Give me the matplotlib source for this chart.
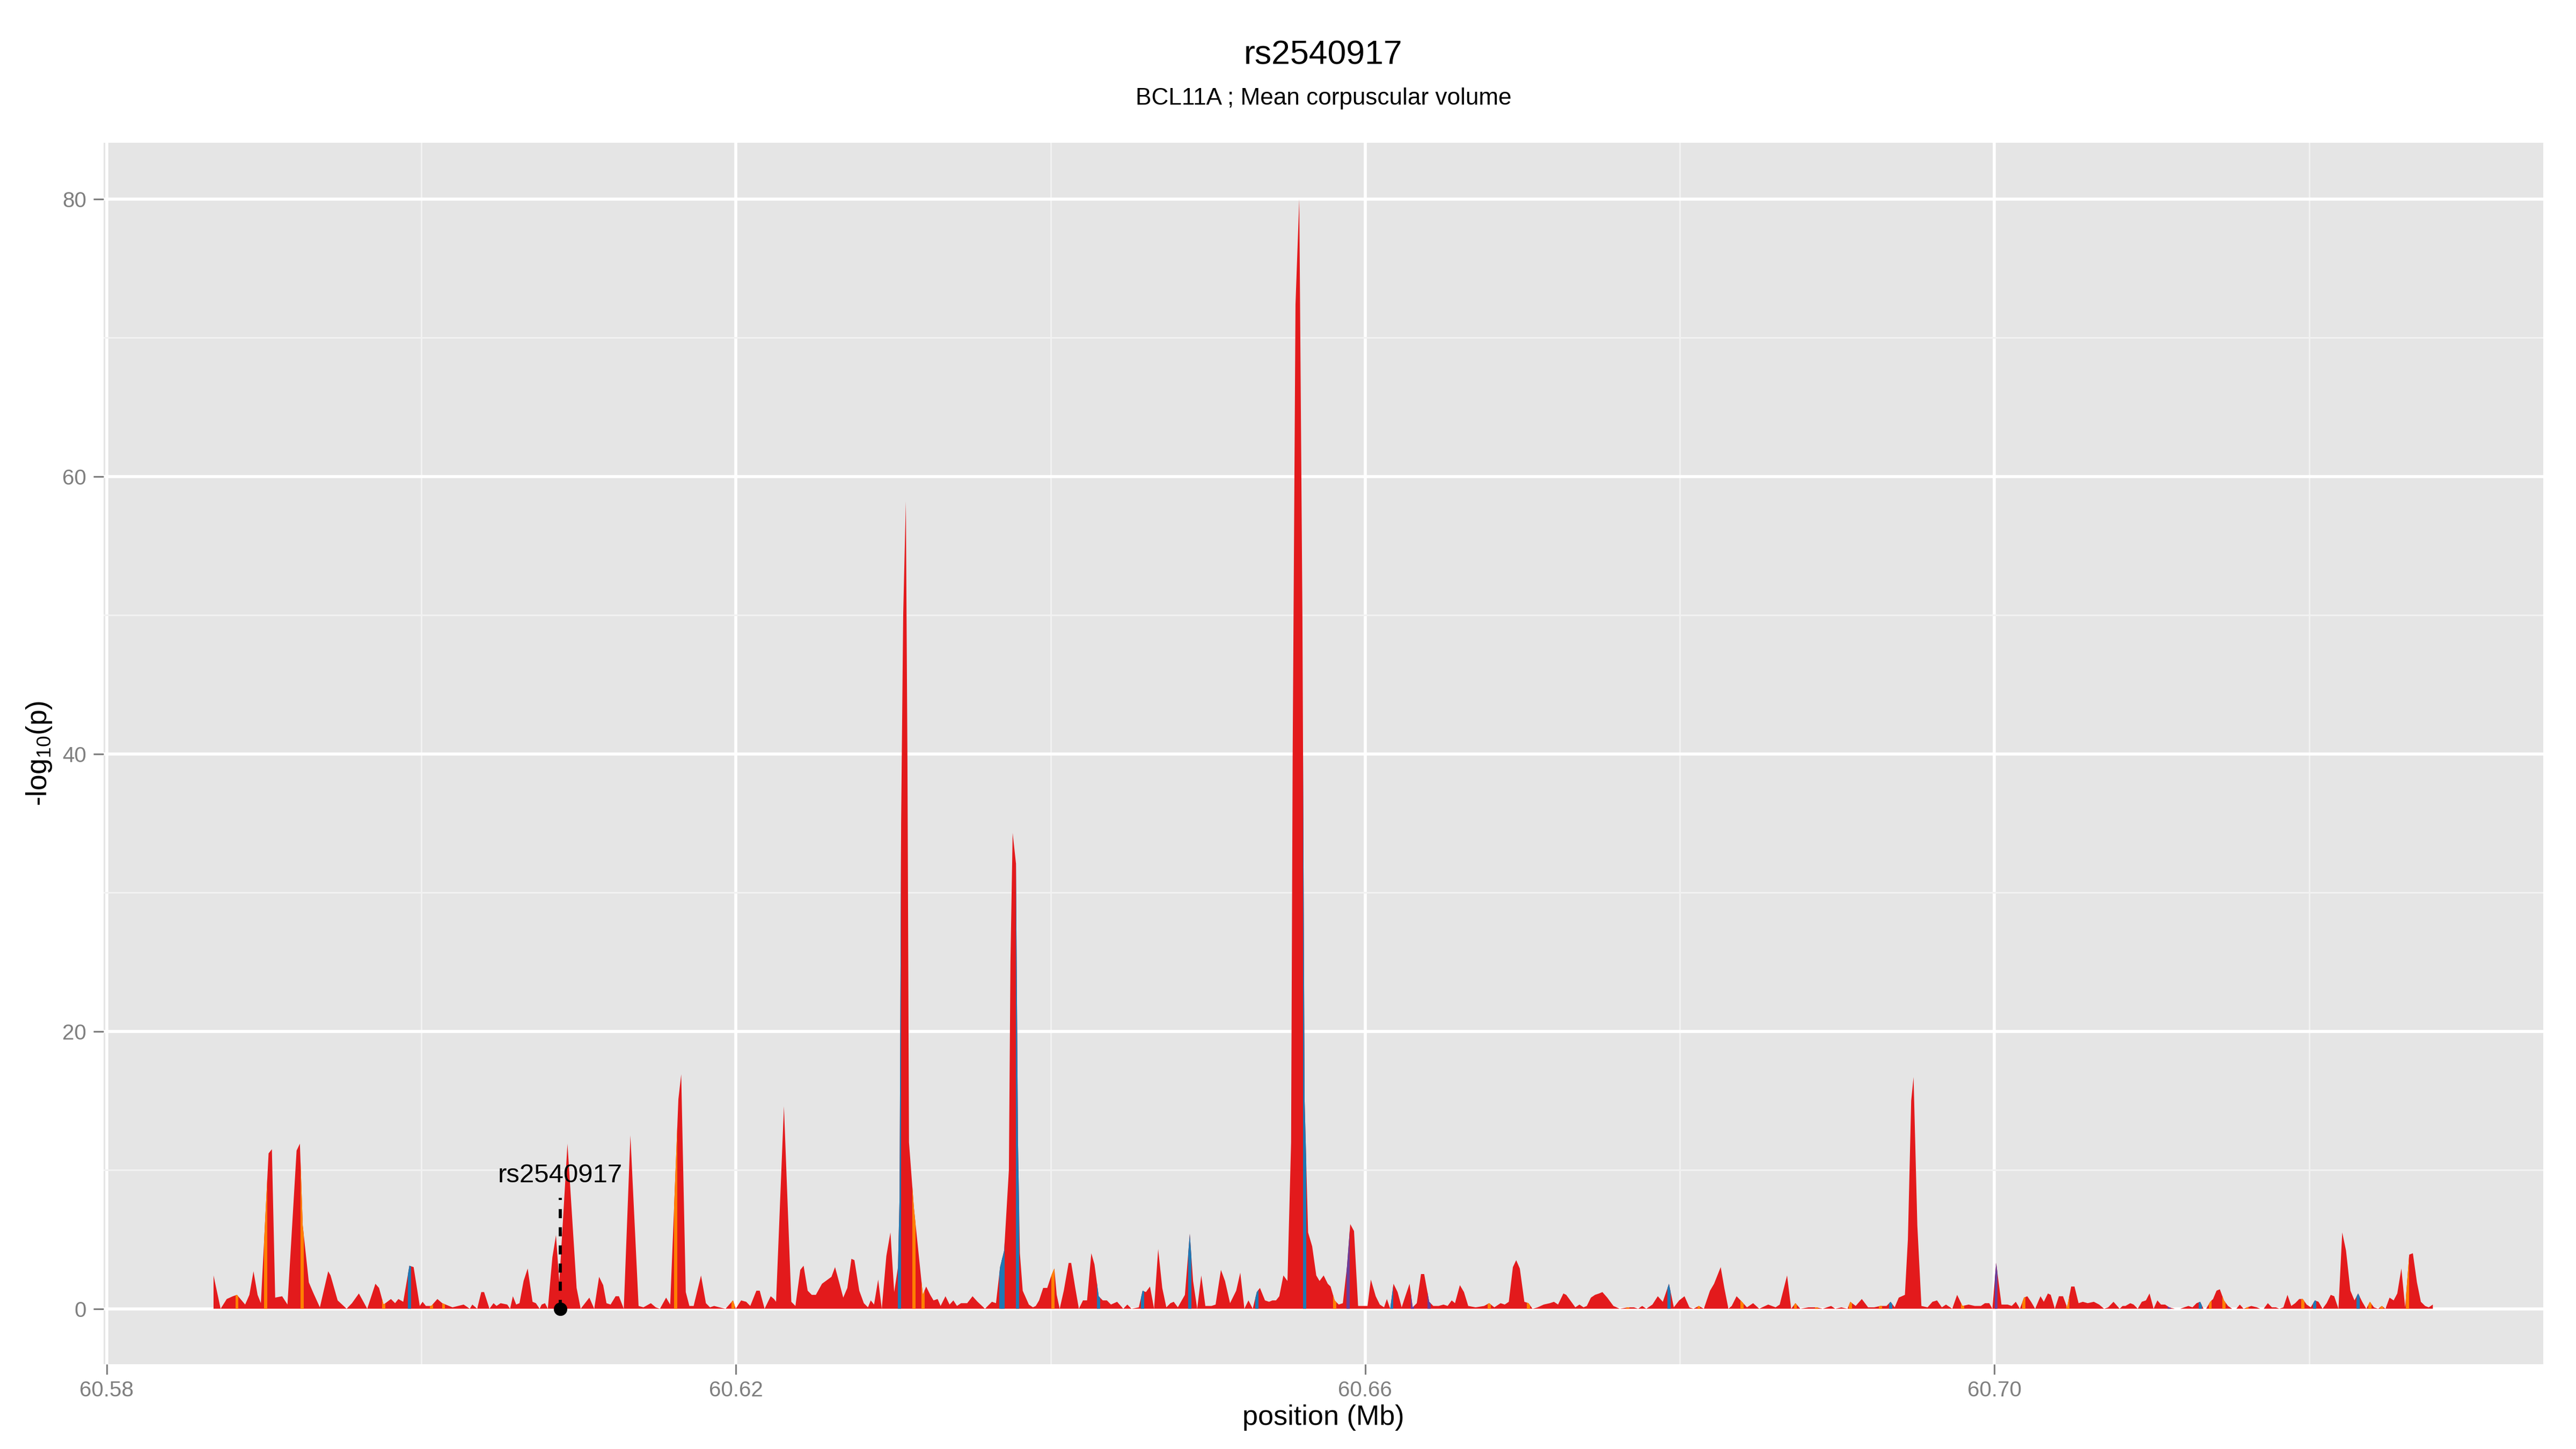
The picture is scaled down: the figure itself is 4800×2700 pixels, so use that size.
import numpy as np
import matplotlib.pyplot as plt
from matplotlib.patches import Polygon

plt.rcParams['font.family'] = ['Liberation Sans', 'DejaVu Sans']
plt.rcParams['mathtext.fontset'] = 'custom'
plt.rcParams['mathtext.rm'] = 'Liberation Sans'
plt.rcParams['mathtext.default'] = 'regular'

# SNP positions (Mb) and -log10(p) of the association profile
snp_pos = [
    60.58679, 60.58724, 60.58763, 60.58802, 60.58828, 60.58880, 60.58907, 60.58933, 60.58959, 60.58980,
    60.59029, 60.59050, 60.59071, 60.59115, 60.59149, 60.59207, 60.59228, 60.59246, 60.59285, 60.59311,
    60.59355, 60.59408, 60.59423, 60.59468, 60.59525, 60.59559, 60.59603, 60.59656, 60.59708, 60.59731,
    60.59760, 60.59807, 60.59833, 60.59854, 60.59885, 60.59924, 60.59951, 60.59990, 60.60008, 60.60029,
    60.60063, 60.60102, 60.60133, 60.60198, 60.60269, 60.60308, 60.60324, 60.60355, 60.60381, 60.60399,
    60.60433, 60.60459, 60.60478, 60.60504, 60.60546, 60.60564, 60.60582, 60.60603, 60.60624, 60.60650,
    60.60676, 60.60707, 60.60728, 60.60752, 60.60765, 60.60786, 60.60804, 60.60833, 60.60856, 60.60877,
    60.60929, 60.60987, 60.61013, 60.61068, 60.61099, 60.61130, 60.61156, 60.61177, 60.61203, 60.61235,
    60.61256, 60.61287, 60.61329, 60.61381, 60.61412, 60.61459, 60.61490, 60.61517, 60.61556, 60.61582,
    60.61634, 60.61652, 60.61681, 60.61704, 60.61731, 60.61778, 60.61809, 60.61835, 60.61861, 60.61895,
    60.61934, 60.61981, 60.61999, 60.62033, 60.62065, 60.62091, 60.62130, 60.62151, 60.62182, 60.62221,
    60.62242, 60.62255, 60.62305, 60.62352, 60.62378, 60.62409, 60.62430, 60.62456, 60.62482, 60.62508,
    60.62547, 60.62607, 60.62630, 60.62661, 60.62682, 60.62708, 60.62734, 60.62753, 60.62784, 60.62813,
    60.62839, 60.62857, 60.62878, 60.62904, 60.62927, 60.62956, 60.62982, 60.63006, 60.63030, 60.63040,
    60.63050, 60.63063, 60.63080, 60.63090, 60.63100, 60.63131, 60.63188, 60.63209, 60.63235, 60.63256,
    60.63282, 60.63301, 60.63332, 60.63358, 60.63382, 60.63405, 60.63431, 60.63470, 60.63504, 60.63536,
    60.63583, 60.63627, 60.63653, 60.63679, 60.63705, 60.63735, 60.63745, 60.63759, 60.63780, 60.63793,
    60.63805, 60.63823, 60.63862, 60.63888, 60.63906, 60.63927, 60.63953, 60.63979, 60.64005, 60.64024,
    60.64039, 60.64058, 60.64084, 60.64115, 60.64131, 60.64157, 60.64180, 60.64206, 60.64232, 60.64259,
    60.64279, 60.64306, 60.64332, 60.64358, 60.64384, 60.64423, 60.64462, 60.64488, 60.64514, 60.64561,
    60.64585, 60.64606, 60.64632, 60.64658, 60.64684, 60.64710, 60.64736, 60.64762, 60.64783, 60.64809,
    60.64854, 60.64885, 60.64906, 60.64932, 60.64958, 60.64984, 60.65023, 60.65049, 60.65083, 60.65109,
    60.65141, 60.65180, 60.65206, 60.65232, 60.65258, 60.65285, 60.65311, 60.65331, 60.65363, 60.65389,
    60.65410, 60.65433, 60.65454, 60.65480, 60.65506, 60.65529, 60.65539, 60.65557, 60.65581, 60.65601,
    60.65615, 60.65637, 60.65663, 60.65689, 60.65710, 60.65736, 60.65762, 60.65780, 60.65806, 60.65832,
    60.65858, 60.65884, 60.65905, 60.65929, 60.65955, 60.65989, 60.66015, 60.66036, 60.66067, 60.66093,
    60.66120, 60.66138, 60.66159, 60.66180, 60.66206, 60.66232, 60.66258, 60.66282, 60.66302, 60.66328,
    60.66355, 60.66375, 60.66407, 60.66433, 60.66467, 60.66498, 60.66524, 60.66550, 60.66571, 60.66602,
    60.66628, 60.66655, 60.66702, 60.66756, 60.66788, 60.66821, 60.66861, 60.66887, 60.66913, 60.66939,
    60.66960, 60.66983, 60.67012, 60.67038, 60.67064, 60.67096, 60.67135, 60.67174, 60.67200, 60.67226,
    60.67260, 60.67278, 60.67336, 60.67362, 60.67388, 60.67409, 60.67435, 60.67461, 60.67487, 60.67508,
    60.67539, 60.67578, 60.67618, 60.67670, 60.67709, 60.67735, 60.67761, 60.67787, 60.67826, 60.67860,
    60.67892, 60.67931, 60.67962, 60.67996, 60.68030, 60.68061, 60.68087, 60.68121, 60.68153, 60.68192,
    60.68218, 60.68260, 60.68283, 60.68309, 60.68330, 60.68361, 60.68395, 60.68427, 60.68466, 60.68505,
    60.68562, 60.68609, 60.68635, 60.68682, 60.68708, 60.68735, 60.68766, 60.68818, 60.68870, 60.68909,
    60.68962, 60.68988, 60.69027, 60.69066, 60.69084, 60.69118, 60.69157, 60.69197, 60.69236, 60.69275,
    60.69314, 60.69340, 60.69366, 60.69392, 60.69431, 60.69450, 60.69471, 60.69486, 60.69510, 60.69536,
    60.69575, 60.69606, 60.69635, 60.69666, 60.69692, 60.69732, 60.69763, 60.69797, 60.69836, 60.69875,
    60.69914, 60.69940, 60.69967, 60.69987, 60.70011, 60.70045, 60.70084, 60.70110, 60.70136, 60.70162,
    60.70188, 60.70209, 60.70233, 60.70259, 60.70293, 60.70314, 60.70340, 60.70358, 60.70384, 60.70410,
    60.70436, 60.70462, 60.70488, 60.70509, 60.70535, 60.70562, 60.70593, 60.70632, 60.70666, 60.70697,
    60.70723, 60.70757, 60.70796, 60.70815, 60.70833, 60.70864, 60.70885, 60.70911, 60.70937, 60.70963,
    60.70986, 60.71012, 60.71036, 60.71059, 60.71085, 60.71111, 60.71146, 60.71181, 60.71233, 60.71259,
    60.71285, 60.71308, 60.71329, 60.71346, 60.71372, 60.71390, 60.71412, 60.71433, 60.71459, 60.71485,
    60.71511, 60.71538, 60.71560, 60.71584, 60.71607, 60.71633, 60.71668, 60.71689, 60.71712, 60.71738,
    60.71764, 60.71790, 60.71811, 60.71837, 60.71863, 60.71887, 60.71912, 60.71938, 60.71960, 60.71985,
    60.72011, 60.72037, 60.72060, 60.72086, 60.72112, 60.72138, 60.72160, 60.72187, 60.72211, 60.72235,
    60.72263, 60.72289, 60.72312, 60.72338, 60.72364, 60.72387, 60.72413, 60.72439, 60.72463, 60.72486,
    60.72512, 60.72538, 60.72561, 60.72587, 60.72611, 60.72637, 60.72660, 60.72686, 60.72711, 60.72738,
    60.72761, 60.72787,
]
snp_logp = [
    2.4, 0.0, 0.7, 0.9, 1.0, 0.3, 1.0, 2.7, 1.0, 0.4,
    11.2, 11.5, 0.8, 0.9, 0.3, 11.4, 11.9, 6.0, 1.9, 1.2,
    0.1, 2.7, 2.4, 0.6, 0.0, 0.4, 1.1, 0.0, 1.8, 1.5,
    0.3, 0.7, 0.4, 0.7, 0.5, 3.1, 3.0, 0.2, 0.5, 0.2,
    0.2, 0.7, 0.4, 0.1, 0.3, 0.0, 0.3, 0.0, 1.2, 1.2,
    0.0, 0.4, 0.2, 0.4, 0.3, 0.0, 0.9, 0.3, 0.4, 2.0,
    2.9, 0.5, 0.4, 0.0, 0.3, 0.4, 0.0, 3.7, 5.3, 1.9,
    11.9, 1.5, 0.0, 0.8, 0.0, 2.3, 1.7, 0.4, 0.3, 0.9,
    0.9, 0.0, 12.5, 0.2, 0.1, 0.4, 0.1, 0.0, 0.8, 0.3,
    15.1, 16.9, 1.2, 0.2, 0.2, 2.4, 0.4, 0.1, 0.2, 0.1,
    0.0, 0.6, 0.0, 0.6, 0.5, 0.2, 1.3, 1.3, 0.0, 0.9,
    0.7, 0.5, 14.6, 0.5, 0.2, 2.8, 3.1, 1.3, 1.0, 1.0,
    1.8, 2.3, 3.0, 1.7, 0.8, 1.5, 3.6, 3.5, 1.3, 0.4,
    0.1, 0.6, 0.3, 2.1, 0.0, 3.8, 5.5, 1.2, 3.0, 8.0,
    35.0, 50.0, 58.2, 40.0, 12.0, 7.3, 1.0, 1.6, 1.0, 0.6,
    0.7, 0.2, 0.9, 0.3, 0.6, 0.2, 0.4, 0.4, 0.9, 0.5,
    0.0, 0.5, 0.4, 3.0, 4.2, 10.0, 25.0, 34.3, 32.1, 12.0,
    4.0, 1.3, 0.3, 0.1, 0.2, 0.6, 1.5, 1.5, 2.4, 2.9,
    1.0, 0.0, 1.3, 3.3, 3.3, 1.5, 0.0, 0.6, 0.6, 4.0,
    3.2, 0.9, 0.6, 0.6, 0.3, 0.5, 0.0, 0.3, 0.0, 0.1,
    1.3, 1.2, 1.6, 0.0, 4.3, 1.5, 0.1, 0.4, 0.5, 0.1,
    1.0, 5.4, 2.0, 0.0, 2.4, 0.2, 0.2, 0.3, 2.8, 2.0,
    0.4, 1.3, 2.6, 0.0, 0.6, 0.0, 1.2, 1.5, 0.6, 0.5,
    0.6, 0.6, 0.9, 2.4, 2.0, 12.0, 40.0, 72.4, 80.0, 50.0,
    15.0, 5.5, 4.5, 2.4, 2.0, 2.4, 1.8, 1.6, 0.6, 0.3,
    0.4, 3.0, 6.1, 5.6, 0.2, 0.2, 0.2, 2.1, 0.9, 0.3,
    0.1, 0.7, 0.0, 1.8, 1.2, 0.1, 1.0, 1.8, 0.1, 0.4,
    2.5, 2.5, 0.5, 0.2, 0.2, 0.3, 0.2, 0.6, 0.4, 1.7,
    1.2, 0.2, 0.1, 0.2, 0.4, 0.1, 0.4, 0.3, 0.5, 3.0,
    3.5, 2.9, 0.5, 0.4, 0.0, 0.1, 0.3, 0.4, 0.5, 0.3,
    1.1, 1.0, 0.1, 0.3, 0.1, 0.2, 0.8, 1.0, 1.1, 1.2,
    0.8, 0.2, 0.0, 0.1, 0.1, 0.0, 0.2, 0.0, 0.3, 0.9,
    0.5, 1.8, 0.1, 0.6, 0.9, 0.1, 0.0, 0.2, 0.0, 1.3,
    1.8, 3.0, 1.5, 0.0, 0.2, 0.9, 0.5, 0.1, 0.4, 0.0,
    0.3, 0.1, 0.3, 2.4, 0.0, 0.4, 0.0, 0.1, 0.1, 0.0,
    0.2, 0.0, 0.1, 0.0, 0.5, 0.2, 0.7, 0.1, 0.1, 0.2,
    0.2, 0.5, 0.1, 0.8, 1.0, 5.0, 15.0, 16.7, 6.0, 0.2,
    0.1, 0.5, 0.6, 0.1, 0.3, 0.0, 1.0, 0.2, 0.3, 0.2,
    0.2, 0.4, 0.4, 0.0, 3.3, 0.3, 0.3, 0.2, 0.5, 0.0,
    0.8, 0.9, 0.5, 0.0, 0.9, 0.5, 1.1, 1.0, 0.0, 0.9,
    0.9, 0.1, 1.6, 1.6, 0.4, 0.5, 0.4, 0.5, 0.3, 0.0,
    0.1, 0.5, 0.0, 0.2, 0.2, 0.4, 0.3, 0.0, 0.5, 0.6,
    1.1, 0.0, 0.6, 0.3, 0.3, 0.1, 0.0, 0.0, 0.2, 0.1,
    0.4, 0.5, 0.0, 0.0, 0.5, 0.7, 1.3, 1.4, 0.6, 0.2,
    0.0, 0.0, 0.3, 0.0, 0.1, 0.2, 0.1, 0.0, 0.0, 0.4,
    0.1, 0.1, 0.0, 0.1, 1.0, 0.2, 0.4, 0.7, 0.7, 0.3,
    0.1, 0.6, 0.5, 0.0, 0.4, 1.0, 0.9, 0.0, 5.5, 4.2,
    1.3, 0.6, 1.1, 0.5, 0.0, 0.5, 0.1, 0.0, 0.2, 0.0,
    0.8, 0.6, 1.1, 2.9, 0.1, 3.9, 4.0, 1.9, 0.5, 0.2,
    0.1, 0.3,
]

# SNPs in the other annotation classes
orange_pos = [60.58828, 60.59011, 60.59241, 60.59760, 60.60063, 60.60141, 60.61616, 60.61981,
              60.63131, 60.63188, 60.64015, 60.65806, 60.66788, 60.67038, 60.67670, 60.68121,
              60.68395, 60.68735, 60.68870, 60.69084, 60.69275, 60.69797, 60.70188, 60.70466,
              60.71372, 60.71459, 60.71607, 60.71960, 60.72387, 60.72463, 60.72625]
blue_pos = [60.59924, 60.63040, 60.63684, 60.63698, 60.63790, 60.64306, 60.64585, 60.64885,
            60.65311, 60.65615, 60.66167, 60.67931, 60.69340, 60.71308, 60.72037, 60.72312]
purple_pos = [60.65890, 60.66302, 60.66407, 60.70011, 60.71111]

lead_snp = 'rs2540917'
lead_pos = 60.60883
lead_label_y = 9.1

x_ticks = [60.58, 60.62, 60.66, 60.70]
x_labels = ['60.58', '60.62', '60.66', '60.70']
x_minor = [60.60, 60.64, 60.68, 60.72]
y_ticks = [0, 20, 40, 60, 80]
y_minor = [10, 30, 50, 70]

RED, BLUE, ORANGE, PURPLE = '#E31A1C', '#1F78B4', '#FF7F00', '#6A3D9A'
GREY = '#7F7F7F'

fig = plt.figure(figsize=(16, 9), dpi=300)
ax = fig.add_axes([193 / 4800, 1 - 2542 / 2700, (4739 - 193) / 4800, (2542 - 266) / 2700])
ax.set_facecolor('#E5E5E5')
for s in ax.spines.values():
    s.set_visible(False)

ax.set_xlim(60.57980, 60.73489)
ax.set_ylim(-4.0, 84.06)
ax.set_xticks(x_ticks)
ax.set_xticklabels(x_labels)
ax.set_xticks(x_minor, minor=True)
ax.set_yticks(y_ticks)
ax.set_yticks(y_minor, minor=True)
ax.set_axisbelow(True)
ax.grid(which='major', color='white', lw=1.35)
ax.grid(which='minor', color='#F2F2F2', lw=0.7)
ax.tick_params(which='major', length=4.6, width=0.75, color=GREY, labelcolor=GREY, labelsize=9.7)
ax.tick_params(axis='x', pad=2.5)
ax.tick_params(axis='y', pad=3)
ax.tick_params(which='minor', length=0)

# main profile
pos = np.array(snp_pos)
lp = np.array(snp_logp)
verts = np.column_stack([np.r_[pos[0], pos, pos[-1]], np.r_[0, lp, 0]])
area = Polygon(verts, closed=True, fc=RED, lw=0, zorder=2)
ax.add_patch(area)

# coloured SNPs, clipped to the profile
w = 0.0001
for plist, col in [(orange_pos, ORANGE), (blue_pos, BLUE), (purple_pos, PURPLE)]:
    for p in plist:
        r = ax.axvspan(p - w, p + w, fc=col, lw=0, zorder=3)
        r.set_clip_path(area)

# lead SNP marker
ax.plot([lead_pos, lead_pos], [0, 8.0], color='black', ls='--', lw=1.4, dashes=(2.9, 2.9), zorder=4)
ax.plot(lead_pos, 0, 'o', color='black', ms=5, zorder=5)
ax.text(lead_pos, lead_label_y, lead_snp, ha='center', va='baseline', fontsize=11.8, zorder=5)

ax.set_xlabel('position (Mb)', fontsize=12.5)
ax.set_ylabel('-log$_{10}$(p)', fontsize=12.8)
ax.xaxis.set_label_coords(0.5, -0.033)
ax.xaxis.label.set_va('top')
ax.yaxis.set_label_coords(-0.0205, 0.5)

cx = (193 + 4739) / 2 / 4800
fig.text(cx, 1 - 120 / 2700, 'rs2540917', ha='center', va='baseline', fontsize=15)
fig.text(cx, 1 - 195 / 2700, 'BCL11A ; Mean corpuscular volume', ha='center', va='baseline', fontsize=10.6)

fig.savefig('out.png', dpi=300, facecolor='white')
